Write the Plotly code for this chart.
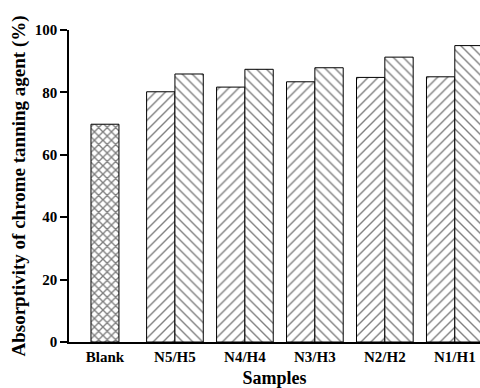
import plotly.graph_objects as go

categories = ["Blank", "N5/H5", "N4/H4", "N3/H3", "N2/H2", "N1/H1"]
blank_value = [69.8]
n_categories = ["N5/H5", "N4/H4", "N3/H3", "N2/H2", "N1/H1"]
n_values = [80.2, 81.7, 83.4, 84.8, 85.0]
h_values = [85.9, 87.4, 87.9, 91.3, 95.0]
y_ticks = [0, 20, 40, 60, 80, 100]

font_family = "Liberation Serif"

fig = go.Figure()
fig.add_trace(go.Bar(
    x=["Blank"], y=blank_value, width=0.4, offset=-0.2,
    marker=dict(color="white", line=dict(color="black", width=1),
                pattern=dict(shape="x", size=6, solidity=0.4, fgcolor="black", bgcolor="white")),
    showlegend=False,
))
fig.add_trace(go.Bar(
    x=n_categories, y=n_values, width=0.405, offset=-0.405,
    marker=dict(color="white", line=dict(color="black", width=1),
                pattern=dict(shape="/", size=7, solidity=0.2, fgcolor="black", bgcolor="white")),
    showlegend=False,
))
fig.add_trace(go.Bar(
    x=n_categories, y=h_values, width=0.405, offset=0,
    marker=dict(color="white", line=dict(color="black", width=1),
                pattern=dict(shape="\\", size=7, solidity=0.2, fgcolor="black", bgcolor="white")),
    showlegend=False,
))

fig.update_layout(
    width=480, height=388,
    margin=dict(l=69, r=0, t=30, b=46),
    barmode="overlay",
    plot_bgcolor="white", paper_bgcolor="white",
    font=dict(family=font_family, color="black", weight="bold"),
    xaxis=dict(
        type="category", categoryorder="array", categoryarray=categories,
        range=[-0.514, 5.36],
        showline=True, linecolor="black", linewidth=1.5,
        ticks="", showgrid=False, zeroline=False,
        tickfont=dict(size=15, family=font_family, weight="bold"),
        title=dict(text="Samples", font=dict(size=18, family=font_family, weight="bold"), standoff=8),
    ),
    yaxis=dict(
        range=[0, 100], tickvals=y_ticks,
        showline=True, linecolor="black", linewidth=1.5,
        ticks="outside", ticklen=7, tickwidth=1.5, tickcolor="black",
        showgrid=False, zeroline=False,
        tickfont=dict(size=15, family=font_family, weight="bold"),
        title=dict(text="Absorptivity of chrome tanning agent (%)",
                   font=dict(size=19, family=font_family, weight="bold"), standoff=4),
    ),
)

fig.write_html("out.html")
